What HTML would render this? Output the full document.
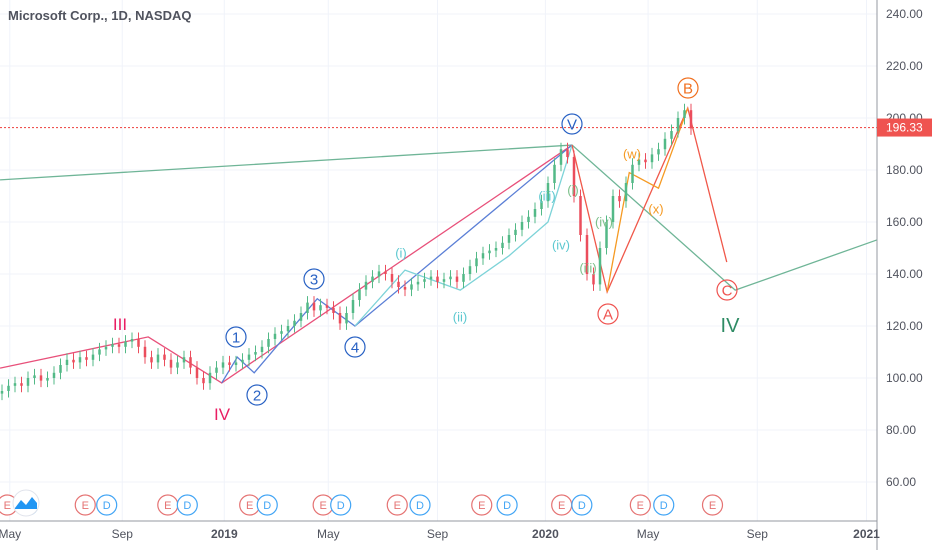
<!DOCTYPE html>
<html><head><meta charset="utf-8"><style>
html,body{margin:0;padding:0;background:#fff;}
svg{display:block;font-family:"Liberation Sans",sans-serif;}
</style></head><body>
<svg id="chart" width="932" height="550" viewBox="0 0 932 550" xmlns="http://www.w3.org/2000/svg">
<g id="grid"></g>
<g id="drawings"></g>
<g id="candles"></g>
<g id="labels"></g>
<g id="events"></g>
<line x1="0" y1="521" x2="877" y2="521" stroke="#9598a1" stroke-width="1"/>
<line x1="877" y1="0" x2="877" y2="550" stroke="#9598a1" stroke-width="1"/>
<g id="yaxis"></g>
<g id="xaxis"></g>
<text x="8" y="20" font-size="13" font-weight="bold" fill="#50535e">Microsoft Corp., 1D, NASDAQ</text>
<g><circle cx="26" cy="503" r="13" fill="#fff" stroke="#e0e3eb"/><path d="M15 508 L21 500 L26 505 L32 497 L37 503 L37 509 L15 509 Z" fill="#2196f3"/></g>
</svg>
<script>
const closes=[95,97,98,97,100,101,99,100,102,105,107,106,108,107,109,111,112,113,112,114,115,112,108,106,109,107,104,106,108,104,100,98,102,104,106,105,106,107,109,110,112,115,117,118,120,122,125,129,126,128,127,125,121,125,130,134,137,139,141,140,137,135,134,136,137,138,139,137,138,139,137,140,143,146,148,149,150,152,155,157,160,162,165,168,175,182,188,185,170,155,140,136,150,160,170,168,175,182,184,183,186,188,192,195,200,203,196];
const priceTicks=[240,220,200,180,160,140,120,100,80,60];
const timeLabels=["May","Sep","2019","May","Sep","2020","May","Sep","2021"];
const timeIdx=[1.2,18.5,34.2,50.2,67,83.6,99.4,116.2,133];
const lastPrice=196.33;
const greenWave=[[-0.3,176.2],[87.7,189.6],[112.8,133.8],[134.6,153.1]];
const pinkWave=[[-0.3,103.8],[22.5,115.8],[33.8,98.1],[87.7,189.6]];
const blueWave=[[33.8,98.1],[36.2,108],[38.8,102],[48.5,130.5],[54.3,120],[87.7,189.6]];
const tealWave=[[54.3,120],[62,141.5],[70.5,133.8],[78,147],[84,160],[87.7,189.6]];
const redWave=[[87.7,189.6],[93.1,133.1],[105.5,203.8],[111.5,144.6]];
const orangeWave=[[93.1,133.1],[96.5,179],[101,173],[105.5,203.8]];
const evE=[0.5,12.5,25.2,37.8,49.1,60.5,73.5,85.8,97.9,109];
const evD=[3.7,15.8,28.2,40.5,51.8,64,77.4,88.9,101.5];
const X=i=>2+i*6.5, Y=p=>118+(200-p)*2.6;
const NS="http://www.w3.org/2000/svg";
function mk(tag,attrs,parent,txt){const e=document.createElementNS(NS,tag);for(const k in attrs)e.setAttribute(k,attrs[k]);if(txt!==undefined)e.textContent=txt;document.getElementById(parent).appendChild(e);return e;}
priceTicks.forEach(p=>{
 const g=mk('line',{x1:0,x2:877,y1:Y(p),y2:Y(p),stroke:'#f0f3fa'},'grid');
 
 
 const t=mk('text',{x:886,y:Y(p)+4,'font-size':12,fill:'#50535e'},'yaxis',p.toFixed(2));
 
 
});
timeIdx.forEach((i,k)=>{
 const g=mk('line',{x1:X(i),x2:X(i),y1:0,y2:521,stroke:'#f0f3fa'},'grid');
 
 
 const bold=/^\d/.test(timeLabels[k]);
 const t=mk('text',{x:X(i),y:538,'font-size':12,'text-anchor':'middle',fill:'#50535e','font-weight':bold?'bold':'normal'},'xaxis',timeLabels[k]);
 
 
});
function poly(pts,color,name){
 const l=mk('polyline',{points:pts.map(p=>X(p[0])+','+Y(p[1])).join(' '),fill:'none',stroke:color,'stroke-width':1.3},'drawings');
 
 
}
poly(greenWave,'#6fb597','green-wave-line');
poly(pinkWave,'#e8507a','pink-wave-line');
poly(blueWave,'#5b7fd6','blue-wave-line');
poly(tealWave,'#7dd3d8','teal-wave-line');
poly(redWave,'#f0584a','red-wave-line');
poly(orangeWave,'#f59a23','orange-wave-line');
closes.forEach((c,i)=>{
 const o=i?closes[i-1]:c-1;const up=c>=o;const col=up?'#53b987':'#eb4d5c';
 const hi=Math.max(o,c)+2.5, lo=Math.min(o,c)-2.5;
 const w=mk('line',{x1:X(i),x2:X(i),y1:Y(hi),y2:Y(lo),stroke:col,'stroke-width':1},'candles');
 
 
 const b=mk('rect',{x:X(i)-1.25,y:Y(Math.max(o,c)),width:2.5,height:Math.max(1,Math.abs(Y(o)-Y(c))),fill:col},'candles');
 
 
});
const pl=mk('line',{x1:0,x2:877,y1:Y(lastPrice),y2:Y(lastPrice),stroke:'#ef5350','stroke-width':1.2,'stroke-dasharray':'2,2'},'drawings');


const pb=mk('rect',{x:877,y:Y(lastPrice)-9,width:55,height:18,fill:'#ef5350'},'yaxis');


const pt=mk('text',{x:886,y:Y(lastPrice)+4,'font-size':12,fill:'#fff'},'yaxis',lastPrice.toFixed(2));


const labs=[["III",120,324,'#e91e63',17,0],["IV",222,414,'#e91e63',17,0],["1",236,337,'#2962c4',15,1],["2",257,395,'#2962c4',15,1],["3",314,279,'#2962c4',15,1],["4",355,347,'#2962c4',15,1],
["(i)",401,253,'#5cc8d0',13,0],["(ii)",460,317,'#5cc8d0',13,0],["(iii)",547,196,'#5cc8d0',13,0],["(iv)",561,245,'#5cc8d0',13,0],["(i)",573,190,'#7cc08a',13,0],["(iii)",588,268,'#7cc08a',13,0],["(iv)",604,222,'#7cc08a',13,0],
["(w)",632,154,'#f59a23',13,0],["(x)",656,209,'#f59a23',13,0],["A",608,314,'#ef5350',15,1],["B",688,88,'#f07020',15,1],["C",727,290,'#ef5350',15,1],["V",572,124,'#2962c4',15,1],["IV",730,325,'#2e8b64',20,0]];
labs.forEach(l=>{
 if(l[5]){const c=mk('circle',{cx:l[1],cy:l[2],r:10,fill:'none',stroke:l[3],'stroke-width':1.2},'labels');
  
  }
 const t=mk('text',{x:l[1],y:l[2]+l[4]*0.36,'font-size':l[4],'text-anchor':'middle',fill:l[3]},'labels',l[0]);
 
 
});
function ev(list,letter,col){list.forEach(i=>{
 const c=mk('circle',{cx:X(i)+2,cy:505,r:10,fill:'#fff',stroke:col,'stroke-width':1.2},'events');
 
 
 const t=mk('text',{x:X(i)+2,y:509,'font-size':11,'text-anchor':'middle',fill:col},'events',letter);
 
 
});}
ev(evE,'E','#e57373');ev(evD,'D','#42a5f5');
</script>
</body></html>
